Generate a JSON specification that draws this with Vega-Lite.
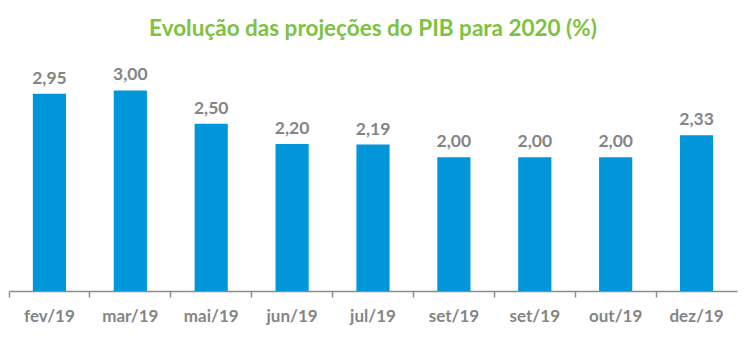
{
  "$schema": "https://vega.github.io/schema/vega-lite/v6.json",
  "autosize": "none",
  "width": 728,
  "height": 234,
  "padding": {"left": 9, "top": 57, "right": 13, "bottom": 65},
  "background": "white",
  "title": {
    "text": "Evolução das projeções do PIB para 2020 (%)",
    "color": "#7DC242",
    "font": "Lato",
    "fontSize": 22.5,
    "fontWeight": "bold",
    "anchor": "middle",
    "offset": 17
  },
  "config": {
    "view": {"stroke": null},
    "locale": {"number": {"decimal": ",", "thousands": ".", "grouping": [3], "currency": ["R$", ""]}}
  },
  "data": {
    "values": [
      {"mes": "1|fev/19", "valor": 2.95},
      {"mes": "2|mar/19", "valor": 3.00},
      {"mes": "3|mai/19", "valor": 2.50},
      {"mes": "4|jun/19", "valor": 2.20},
      {"mes": "5|jul/19", "valor": 2.19},
      {"mes": "6|set/19", "valor": 2.00},
      {"mes": "7|set/19", "valor": 2.00},
      {"mes": "8|out/19", "valor": 2.00},
      {"mes": "9|dez/19", "valor": 2.33}
    ]
  },
  "encoding": {
    "x": {
      "field": "mes",
      "type": "nominal",
      "sort": null,
      "scale": {"paddingInner": 0, "paddingOuter": 0},
      "axis": {
        "title": null,
        "labelAngle": 0,
        "labelExpr": "split(datum.label, '|')[1]",
        "labelFont": "Lato",
        "labelFontSize": 17,
        "labelFontWeight": "bold",
        "labelColor": "#858585",
        "labelPadding": 11,
        "domainColor": "#8C8C8C",
        "domainWidth": 1.5,
        "tickColor": "#8C8C8C",
        "tickSize": 6,
        "tickWidth": 1.5,
        "bandPosition": 0,
        "grid": false
      }
    },
    "y": {
      "field": "valor",
      "type": "quantitative",
      "scale": {"domain": [0, 3.5]},
      "axis": null
    }
  },
  "layer": [
    {
      "mark": {"type": "bar", "color": "#0096D9", "width": {"band": 0.41}}
    },
    {
      "mark": {
        "type": "text",
        "baseline": "bottom",
        "dy": -6,
        "font": "Lato",
        "fontSize": 17.5,
        "fontWeight": "bold",
        "color": "#858585"
      },
      "encoding": {
        "text": {"field": "valor", "type": "quantitative", "format": ".2f"}
      }
    }
  ]
}
